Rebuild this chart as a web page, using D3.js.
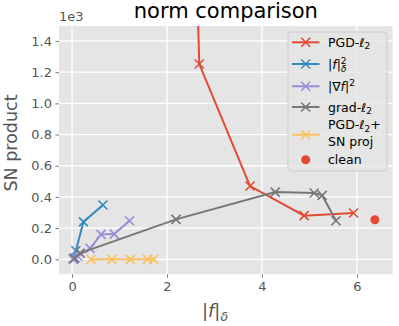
<!DOCTYPE html>
<html>
<head>
<meta charset="utf-8">
<script src="https://cdn.jsdelivr.net/npm/d3@7"></script>
<style>
  body { margin: 0; background: #fff; }
  svg { font-family: "DejaVu Sans", sans-serif; }
</style>
</head>
<body>
<div class="container"></div>
<script>
let width = 399
let height = 326

// values (y in raw units, shown as x1e3)
let pgdX = [2.52, 2.68, 3.75, 4.89, 5.93]
let pgdY = [3000, 1252, 470, 280, 297]
let fdX = [0.03, 0.08, 0.24, 0.65]
let fdY = [3, 55, 240, 348]
let gradfX = [0.02, 0.06, 0.12, 0.38, 0.61, 0.89, 1.21]
let gradfY = [3, 10, 20, 70, 160, 162, 247]
let gradl2X = [0.05, 0.17, 2.19, 4.28, 5.1, 5.27, 5.56]
let gradl2Y = [5, 40, 256, 431, 425, 410, 247]
let projX = [0.4, 0.84, 1.23, 1.59, 1.72]
let projY = [0, 0, 0, 0, 0]
let cleanX = [6.38]
let cleanY = [254]

let xTicks = [0, 2, 4, 6]
let yTicks = [0, 200, 400, 600, 800, 1000, 1200, 1400]

let series = [
  {name: "pgd", color: "#E24A33", xs: pgdX, ys: pgdY},
  {name: "fd", color: "#348ABD", xs: fdX, ys: fdY},
  {name: "gradf", color: "#988ED5", xs: gradfX, ys: gradfY},
  {name: "gradl2", color: "#777777", xs: gradl2X, ys: gradl2Y},
  {name: "proj", color: "#FBC15E", xs: projX, ys: projY}
]

let pLeft = 59, pRight = 392.7, pTop = 26, pBottom = 274.3

let x = d3.scaleLinear().domain([-0.275, 6.755]).range([pLeft, pRight])
let y = d3.scaleLinear().domain([-96, 1496]).range([pBottom, pTop])

let svg = d3.select(".container")
  .append("svg")
  .attr("width", width)
  .attr("height", height)

svg.append("defs").append("clipPath")
  .attr("id", "plotclip")
  .append("rect")
  .attr("x", pLeft).attr("y", pTop)
  .attr("width", pRight - pLeft).attr("height", pBottom - pTop)

svg.append("rect")
  .attr("x", pLeft).attr("y", pTop)
  .attr("width", pRight - pLeft).attr("height", pBottom - pTop)
  .attr("fill", "#E5E5E5")

// axes
let xAxis = svg.append("g")
  .attr("transform", `translate(0,${pBottom})`)
  .call(d3.axisBottom(x).tickValues(xTicks).tickSize(3.5).tickPadding(3.5).tickFormat(d3.format("d")))
let yAxis = svg.append("g")
  .attr("transform", `translate(${pLeft},0)`)
  .call(d3.axisLeft(y).tickValues(yTicks).tickSize(3.5).tickPadding(3.5).tickFormat(function(d) { return (d / 1000).toFixed(1) }))

for (let ax of [xAxis, yAxis]) {
  ax.select(".domain").remove()
  ax.selectAll("line").attr("stroke", "#555555").attr("stroke-width", 0.8)
  ax.selectAll("text")
    .attr("fill", "#555555")
    .attr("font-size", "13px")
    .attr("font-family", "DejaVu Sans")
}

// grid
let grid = svg.append("g")
grid.selectAll(".gx").data(xTicks).enter().append("line")
  .attr("x1", function(d) { return x(d) }).attr("x2", function(d) { return x(d) })
  .attr("y1", pTop).attr("y2", pBottom)
  .attr("stroke", "#fff").attr("stroke-width", 1.3)
grid.selectAll(".gy").data(yTicks).enter().append("line")
  .attr("y1", function(d) { return y(d) }).attr("y2", function(d) { return y(d) })
  .attr("x1", pLeft).attr("x2", pRight)
  .attr("stroke", "#fff").attr("stroke-width", 1.3)

// offset text
svg.append("text")
  .attr("x", pLeft).attr("y", 20.5)
  .attr("font-size", "13px").attr("fill", "#555555")
  .text("1e3")

let plot = svg.append("g").attr("clip-path", "url(#plotclip)")

function xMark(g, cx, cy, color, s) {
  g.append("path")
    .attr("d", `M${cx - s},${cy - s}L${cx + s},${cy + s}M${cx - s},${cy + s}L${cx + s},${cy - s}`)
    .attr("stroke", color).attr("stroke-width", 1.6).attr("fill", "none")
}

let line = d3.line()
  .x(function(d) { return x(d[0]) })
  .y(function(d) { return y(d[1]) })

series.forEach(function(s) {
  let pts = s.xs.map(function(v, i) { return [v, s.ys[i]] })
  plot.append("path")
    .datum(pts)
    .attr("d", line)
    .attr("fill", "none")
    .attr("stroke", s.color)
    .attr("stroke-width", 2)
  pts.forEach(function(p) { xMark(plot, x(p[0]), y(p[1]), s.color, 4.5) })
})

plot.selectAll(".clean").data(cleanX).enter().append("circle")
  .attr("cx", function(d) { return x(d) })
  .attr("cy", function(d, i) { return y(cleanY[i]) })
  .attr("r", 4.5)
  .attr("fill", "#E24A33")

// title and labels
svg.append("text")
  .attr("x", (pLeft + pRight) / 2).attr("y", 18)
  .attr("text-anchor", "middle")
  .attr("font-size", "21px")
  .attr("fill", "#000")
  .text("norm comparison")

svg.append("text")
  .attr("transform", `translate(16.5,143) rotate(-90)`)
  .attr("text-anchor", "middle")
  .attr("font-size", "17.5px")
  .attr("fill", "#555555")
  .text("SN product")

let xl = svg.append("text")
  .attr("x", 215).attr("y", 317)
  .attr("text-anchor", "middle")
  .attr("font-size", "18px")
  .attr("fill", "#555555")
xl.append("tspan").text("|")
xl.append("tspan").attr("font-style", "italic").text("f")
xl.append("tspan").text("|")
xl.append("tspan").attr("font-size", "12.5px").attr("font-style", "italic").attr("dy", 4).text("δ")

// legend
let legend = svg.append("g")
legend.append("rect")
  .attr("x", 288).attr("y", 32).attr("width", 99).attr("height", 139)
  .attr("rx", 3)
  .attr("fill", "#E5E5E5").attr("fill-opacity", 0.8)
  .attr("stroke", "#CCCCCC").attr("stroke-width", 1)

let legY = [42.3, 64, 86.3, 107, 134.7]
series.forEach(function(s, i) {
  legend.append("line")
    .attr("x1", 292).attr("x2", 319.5)
    .attr("y1", legY[i]).attr("y2", legY[i])
    .attr("stroke", s.color).attr("stroke-width", 2)
  xMark(legend, 305.7, legY[i], s.color, 4.5)
})
legend.append("circle").attr("cx", 305.7).attr("cy", 159.7).attr("r", 4.5).attr("fill", "#E24A33")

let fs = "12.5px"
function legText(yy) {
  return legend.append("text").attr("x", 328).attr("y", yy).attr("font-size", fs).attr("fill", "#000")
}
let t1 = legText(46.8)
t1.append("tspan").text("PGD-")
t1.append("tspan").attr("font-style", "italic").text("ℓ")
t1.append("tspan").attr("font-size", "9px").attr("dy", 2.5).text("2")

let t2 = legText(68.5)
t2.append("tspan").text("|")
t2.append("tspan").attr("font-style", "italic").text("f")
t2.append("tspan").text("|")
t2.append("tspan").attr("font-size", "9px").attr("dy", -5).text("2")
t2.append("tspan").attr("font-size", "9px").attr("font-style", "italic").attr("dx", -5.5).attr("dy", 8.5).text("δ")

let t3 = legText(90.8)
t3.append("tspan").text("|∇")
t3.append("tspan").attr("font-style", "italic").text("f")
t3.append("tspan").text("|")
t3.append("tspan").attr("font-size", "9px").attr("dy", -5).text("2")

let t4 = legText(111.5)
t4.append("tspan").text("grad-")
t4.append("tspan").attr("font-style", "italic").text("ℓ")
t4.append("tspan").attr("font-size", "9px").attr("dy", 2.5).text("2")

let t5 = legText(129)
t5.append("tspan").text("PGD-")
t5.append("tspan").attr("font-style", "italic").text("ℓ")
t5.append("tspan").attr("font-size", "9px").attr("dy", 2.5).text("2")
t5.append("tspan").attr("dy", -2.5).text("+")
legText(146).text("SN proj")

legText(164).text("clean")
</script>
</body>
</html>
